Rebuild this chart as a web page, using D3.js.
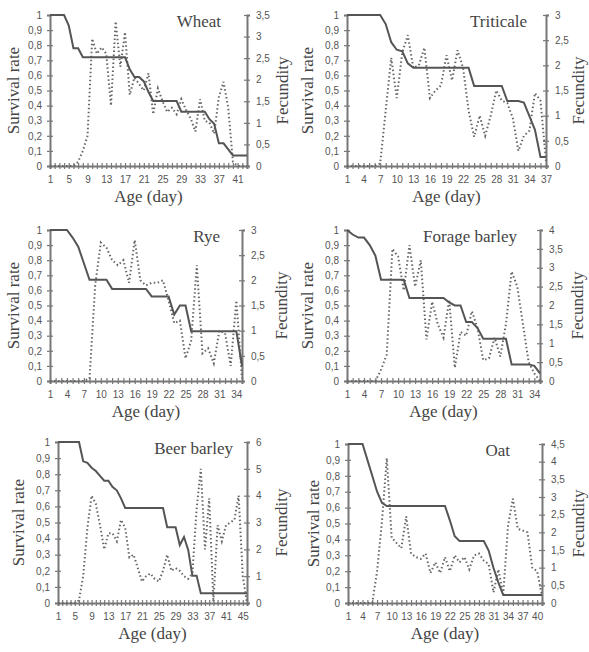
<!DOCTYPE html>
<html>
<head>
<meta charset="utf-8">
<script src="https://cdn.jsdelivr.net/npm/d3@7"></script>
<style>
body { margin: 0; background: #fff; }
</style>
</head>
<body>
<div id="chart-area"></div>
<script>
// Survival rate and fecundity by day, six cereals

var survivalTicks = [0, 0.1, 0.2, 0.3, 0.4, 0.5, 0.6, 0.7, 0.8, 0.9, 1];

var wheatSurvival = [1, 1, 1, 1, 0.93, 0.78, 0.78, 0.72, 0.72, 0.72, 0.72, 0.72, 0.72, 0.72, 0.72, 0.72, 0.72,
    0.64, 0.59, 0.59, 0.56, 0.49, 0.43, 0.43, 0.43, 0.43, 0.43, 0.43, 0.36, 0.36, 0.36, 0.36, 0.36, 0.36,
    0.31, 0.28, 0.15, 0.15, 0.11, 0.07, 0.07, 0.07, 0.07];
var wheatFecundity = [0, 0, 0, 0, 0, 0, 0.1, 0.35, 0.7, 2.95, 2.6, 2.75, 2.6, 1.4, 3.35, 2.3, 3.1,
    1.65, 2.05, 1.9, 1.75, 2.15, 1.2, 1.8, 1.5, 1.25, 1.35, 1.2, 1.55, 1.3, 1.1, 0.8, 1.55, 1.05,
    1.0, 0.75, 1.6, 1.95, 1.35, 0.1, 0, 0, 0];
var wheatFecTicks = [0, 0.5, 1, 1.5, 2, 2.5, 3, 3.5];
var wheatDayTicks = [1, 5, 9, 13, 17, 21, 25, 29, 33, 37, 41];

var triticaleSurvival = [1, 1, 1, 1, 1, 1, 1, 0.94, 0.82, 0.77, 0.76, 0.68, 0.65, 0.65, 0.65, 0.65, 0.65,
    0.65, 0.65, 0.65, 0.65, 0.65, 0.65, 0.53, 0.53, 0.53, 0.53, 0.53, 0.53, 0.43, 0.43, 0.43, 0.42,
    0.33, 0.24, 0.06, 0.06];
var triticaleFecundity = [0, 0, 0, 0, 0, 0, 0.05, 1.1, 2.15, 1.35, 2.25, 2.6, 1.95, 2.0, 2.35, 1.35, 1.5,
    1.6, 2.2, 1.7, 2.3, 1.95, 1.1, 0.58, 1.0, 0.6, 1.0, 1.5, 1.3, 1.25, 0.95, 0.3, 0.6, 0.7, 1.45,
    1.3, 0.1];
var triticaleFecTicks = [0, 0.5, 1, 1.5, 2, 2.5, 3];
var triticaleDayTicks = [1, 4, 7, 10, 13, 16, 19, 22, 25, 28, 31, 34, 37];

var ryeSurvival = [1, 1, 1, 1, 0.95, 0.89, 0.78, 0.67, 0.67, 0.67, 0.67, 0.61, 0.61, 0.61, 0.61, 0.61,
    0.61, 0.61, 0.56, 0.56, 0.56, 0.56, 0.44, 0.5, 0.5, 0.33, 0.33, 0.33, 0.33, 0.33, 0.33, 0.33,
    0.33, 0.33, 0.1];
var ryeFecundity = [0, 0, 0, 0, 0, 0, 0, 0.05, 1.9, 2.75, 2.65, 2.4, 2.3, 2.4, 1.95, 2.8, 2.0, 1.9,
    1.95, 1.95, 2.0, 1.6, 1.15, 1.2, 0.45, 0.8, 2.3, 0.55, 0.65, 0.35, 1.0, 0.95, 0.3, 1.6, 0.05];
var ryeFecTicks = [0, 0.5, 1, 1.5, 2, 2.5, 3];
var ryeDayTicks = [1, 4, 7, 10, 13, 16, 19, 22, 25, 28, 31, 34];

var forageSurvival = [1, 0.97, 0.95, 0.95, 0.9, 0.83, 0.67, 0.67, 0.67, 0.67, 0.67, 0.55, 0.55, 0.55,
    0.55, 0.55, 0.55, 0.55, 0.52, 0.5, 0.5, 0.39, 0.39, 0.35, 0.28, 0.28, 0.28, 0.28, 0.28, 0.11,
    0.11, 0.11, 0.11, 0.1, 0.05];
var forageFecundity = [0, 0, 0, 0, 0, 0, 0.3, 0.7, 3.5, 3.3, 2.4, 3.6, 2.5, 3.2, 1.1, 2.1, 1.5, 1.15,
    2.15, 0.35, 1.3, 1.2, 1.85, 1.4, 0.55, 0.6, 1.15, 0.65, 1.5, 2.9, 2.5, 1.5, 0.5, 0.2, 0];
var forageFecTicks = [0, 0.5, 1, 1.5, 2, 2.5, 3, 3.5, 4];
var forageDayTicks = [1, 4, 7, 10, 13, 16, 19, 22, 25, 28, 31, 34];

var beerSurvival = [1, 1, 1, 1, 1, 1, 0.88, 0.87, 0.84, 0.82, 0.79, 0.76, 0.76, 0.72, 0.7, 0.65, 0.59,
    0.59, 0.59, 0.59, 0.59, 0.59, 0.59, 0.59, 0.59, 0.59, 0.47, 0.47, 0.47, 0.36, 0.41, 0.33, 0.17,
    0.17, 0.06, 0.06, 0.06, 0.06, 0.06, 0.06, 0.06, 0.06, 0.06, 0.06, 0.06, 0.06];
var beerFecundity = [0, 0, 0, 0, 0, 0.1, 1.0, 2.8, 4.0, 3.7, 2.9, 2.0, 2.6, 2.6, 2.3, 3.1, 2.8, 1.7,
    1.8, 1.3, 0.8, 1.0, 1.1, 0.9, 0.8, 1.2, 1.8, 1.2, 1.3, 1.2, 1.0, 0.9, 1.1, 3.5, 5.0, 2.0, 3.9,
    0.05, 2.9, 2.3, 2.9, 3.0, 3.1, 4.0, 1.0, 0];
var beerFecTicks = [0, 1, 2, 3, 4, 5, 6];
var beerDayTicks = [1, 5, 9, 13, 17, 21, 25, 29, 33, 37, 41, 45];

var oatSurvival = [1, 1, 1, 1, 0.9, 0.8, 0.7, 0.63, 0.61, 0.61, 0.61, 0.61, 0.61, 0.61, 0.61, 0.61,
    0.61, 0.61, 0.61, 0.61, 0.61, 0.52, 0.42, 0.39, 0.39, 0.39, 0.39, 0.39, 0.39, 0.33, 0.22, 0.13,
    0.05, 0.05, 0.05, 0.05, 0.05, 0.05, 0.05, 0.05, 0.05];
var oatFecundity = [0, 0, 0, 0, 0, 0, 0.9, 2.3, 4.1, 1.85, 1.7, 1.55, 2.45, 1.4, 1.3, 1.25, 1.4, 0.85,
    1.15, 0.85, 1.3, 0.9, 1.35, 1.15, 1.3, 0.95, 1.35, 1.4, 1.2, 1.1, 0.3, 0.95, 0.25, 2.2, 2.95, 2.1,
    2.05, 2.0, 1.0, 0.9, 0.2];
var oatFecTicks = [0, 0.5, 1, 1.5, 2, 2.5, 3, 3.5, 4, 4.5];
var oatDayTicks = [1, 4, 7, 10, 13, 16, 19, 22, 25, 28, 31, 34, 37, 40];

// layout of the six panels (pixels)
var panels = [
    { name: "Wheat", survival: wheatSurvival, fecundity: wheatFecundity, fecTicks: wheatFecTicks, dayTicks: wheatDayTicks,
      left: 50, right: 247, top: 15, bottom: 166, titleX: 221, survX: 19, fecX: 288 },
    { name: "Triticale", survival: triticaleSurvival, fecundity: triticaleFecundity, fecTicks: triticaleFecTicks, dayTicks: triticaleDayTicks,
      left: 347, right: 546, top: 15, bottom: 166, titleX: 527, survX: 313, fecX: 584 },
    { name: "Rye", survival: ryeSurvival, fecundity: ryeFecundity, fecTicks: ryeFecTicks, dayTicks: ryeDayTicks,
      left: 50, right: 242, top: 230, bottom: 381, titleX: 220, survX: 19, fecX: 287 },
    { name: "Forage barley", survival: forageSurvival, fecundity: forageFecundity, fecTicks: forageFecTicks, dayTicks: forageDayTicks,
      left: 347, right: 540, top: 230, bottom: 381, titleX: 517, survX: 313, fecX: 583 },
    { name: "Beer barley", survival: beerSurvival, fecundity: beerFecundity, fecTicks: beerFecTicks, dayTicks: beerDayTicks,
      left: 58, right: 247, top: 442, bottom: 603, titleX: 233, survX: 24, fecX: 287 },
    { name: "Oat", survival: oatSurvival, fecundity: oatFecundity, fecTicks: oatFecTicks, dayTicks: oatDayTicks,
      left: 348, right: 542, top: 444, bottom: 603, titleX: 510, survX: 319, fecX: 584 }
];

var axisColor = "#777",
    lineColor = "#555",
    labelColor = "#555",
    titleColor = "#444",
    serif = "'Liberation Serif', 'Times New Roman', serif";

var svg = d3.select("#chart-area")
    .append("svg")
    .attr("width", 589)
    .attr("height", 652);

function comma(d) {
    return String(d).replace(".", ",");
}

function styleAxis(sel) {
    sel.select(".domain").attr("stroke", axisColor).attr("stroke-width", 2);
    sel.selectAll(".tick line").attr("stroke", axisColor).attr("stroke-width", 1.2);
    sel.selectAll(".tick text")
        .attr("fill", labelColor)
        .attr("font-family", "'Liberation Sans', Arial, sans-serif")
        .attr("font-size", "10px");
}

panels.forEach(function(p) {
    var n = p.survival.length;
    var days = d3.range(1, n + 1);
    var g = svg.append("g");

    var x = d3.scaleLinear().domain([1, n]).range([p.left, p.right]);
    var y = d3.scaleLinear().domain([0, 1]).range([p.bottom, p.top]);
    var y2 = d3.scaleLinear().domain([0, d3.max(p.fecTicks)]).range([p.bottom, p.top]);

    // Left axis
    var yAxis = g.append("g")
        .attr("transform", "translate(" + p.left + ",0)")
        .call(d3.axisLeft(y).tickValues(survivalTicks).tickSizeOuter(0).tickSize(3).tickPadding(5).tickFormat(comma));
    yAxis.selectAll(".tick line").attr("x1", -3).attr("x2", 3);
    styleAxis(yAxis);

    // Right axis
    var y2Axis = g.append("g")
        .attr("transform", "translate(" + p.right + ",0)")
        .call(d3.axisRight(y2).tickValues(p.fecTicks).tickSizeOuter(0).tickSize(3).tickPadding(6).tickFormat(comma));
    y2Axis.selectAll(".tick line").attr("x1", -3).attr("x2", 3);
    styleAxis(y2Axis);

    // X axis, a tick for every day
    var xAxis = g.append("g")
        .attr("transform", "translate(0," + p.bottom + ")")
        .call(d3.axisBottom(x).tickValues(days).tickSizeOuter(0).tickSize(3).tickPadding(7)
            .tickFormat(function(d) { return p.dayTicks.indexOf(d) >= 0 ? d : ""; }));
    xAxis.selectAll(".tick line").attr("y1", -3).attr("y2", 3);
    styleAxis(xAxis);

    // Fecundity (dotted)
    var fecLine = d3.line()
        .x(function(d, i) { return x(i + 1); })
        .y(function(d) { return y2(d); });

    g.append("path")
        .datum(p.fecundity)
        .attr("d", fecLine)
        .attr("fill", "none")
        .attr("stroke", "#666")
        .attr("stroke-width", 2)
        .attr("stroke-dasharray", "1.5,2.5");

    // Survival (solid)
    var survLine = d3.line()
        .x(function(d, i) { return x(i + 1); })
        .y(function(d) { return y(d); });

    g.append("path")
        .datum(p.survival)
        .attr("d", survLine)
        .attr("fill", "none")
        .attr("stroke", lineColor)
        .attr("stroke-width", 2);

    // Titles and labels
    g.append("text")
        .attr("x", p.titleX)
        .attr("y", p.top + 12)
        .attr("text-anchor", "end")
        .attr("font-family", serif)
        .attr("font-size", "17px")
        .attr("fill", titleColor)
        .text(p.name);

    var midY = (p.top + p.bottom) / 2;

    g.append("text")
        .attr("transform", "translate(" + p.survX + "," + midY + ") rotate(-90)")
        .attr("text-anchor", "middle")
        .attr("font-family", serif)
        .attr("font-size", "17px")
        .attr("fill", titleColor)
        .text("Survival rate");

    g.append("text")
        .attr("transform", "translate(" + p.fecX + "," + midY + ") rotate(-90)")
        .attr("text-anchor", "middle")
        .attr("font-family", serif)
        .attr("font-size", "17px")
        .attr("fill", titleColor)
        .text("Fecundity");

    g.append("text")
        .attr("x", (p.left + p.right) / 2)
        .attr("y", p.bottom + 36)
        .attr("text-anchor", "middle")
        .attr("font-family", serif)
        .attr("font-size", "17px")
        .attr("fill", titleColor)
        .text("Age (day)");
});
</script>
</body>
</html>
